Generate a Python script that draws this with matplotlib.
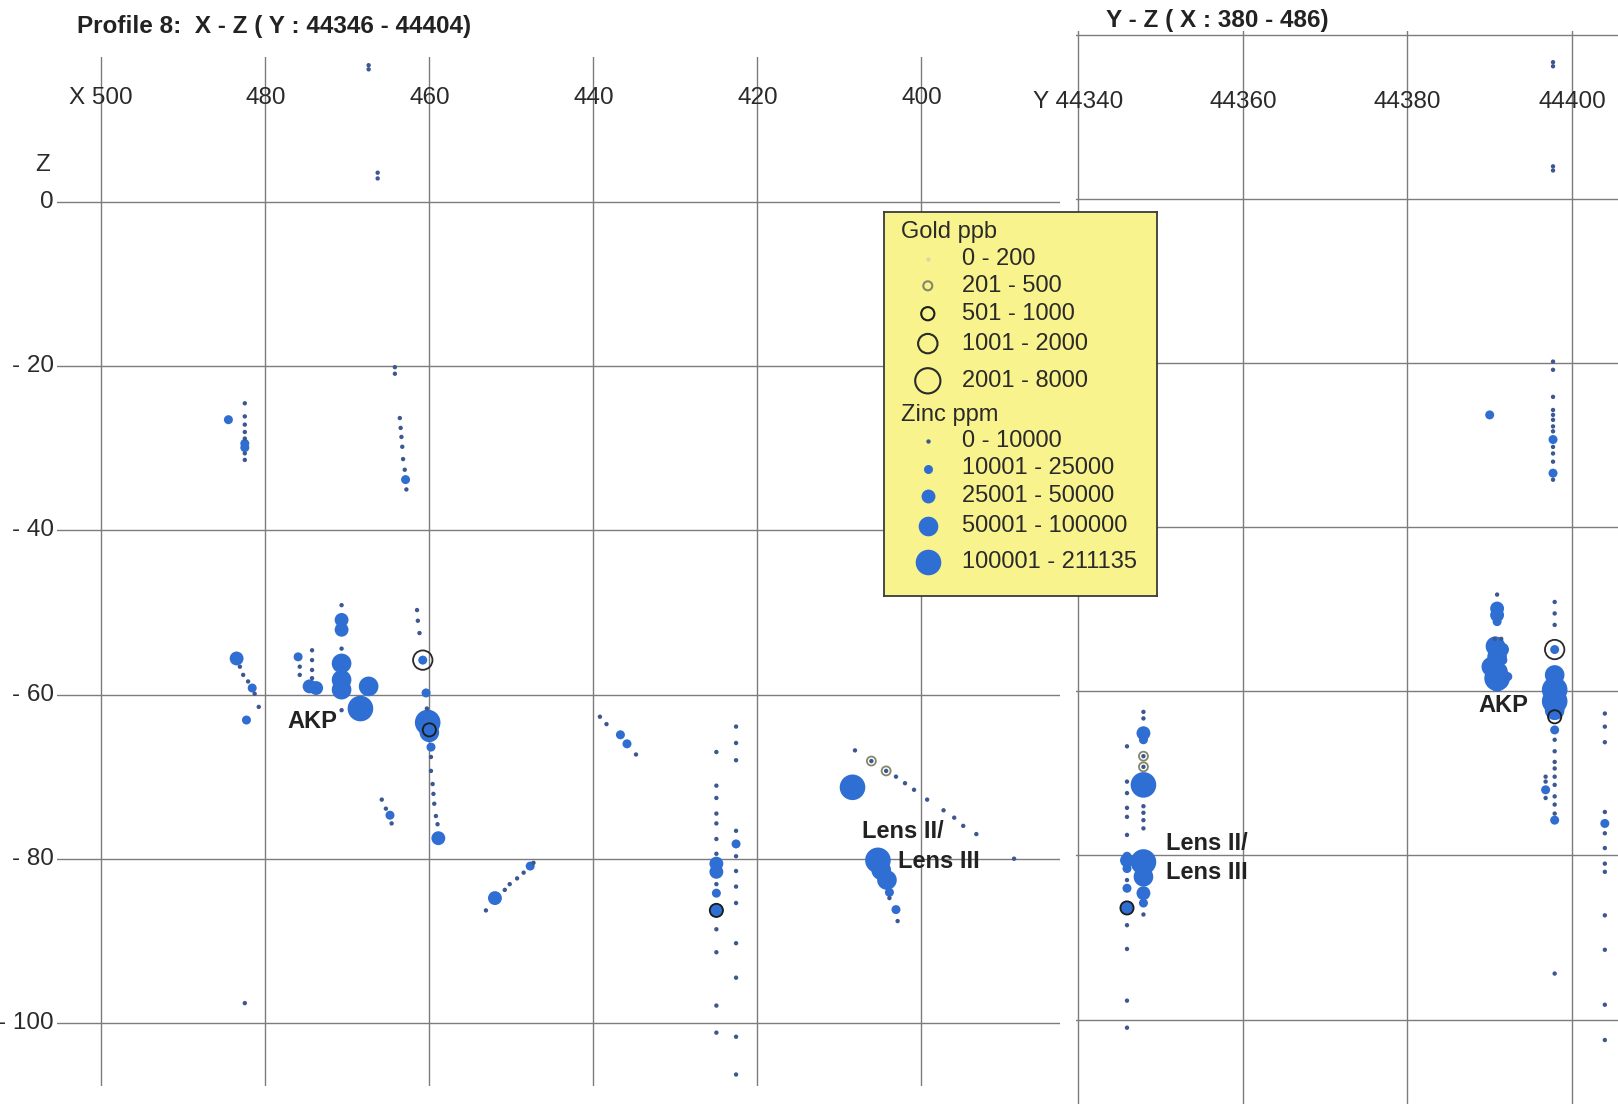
import matplotlib.pyplot as plt

plt.rcParams['font.family'] = ['Liberation Sans', 'DejaVu Sans']

# ---- X-Z section (left) : zinc samples  (X, Z, zinc class 1..5)
xz_x = [467.4, 467.4, 466.3, 466.3,
        484.5, 482.5, 482.5, 482.5, 482.5, 482.5, 482.5, 482.5, 482.5, 482.5,
        464.2, 464.2, 463.6, 463.5, 463.4, 463.3, 463.2, 463.0, 462.9, 462.8,
        483.5, 483.1, 482.7, 482.1, 481.6, 481.3, 480.8, 482.3,
        476.0, 475.8, 475.8, 474.3, 474.3, 474.3, 474.3, 474.6, 473.8,
        470.7, 470.7, 470.7, 470.7, 470.7, 470.7, 470.7, 470.7, 468.4, 467.4,
        461.5, 461.4, 461.2, 460.8, 460.4, 460.3, 460.2, 460.0, 459.8, 459.8,
        459.8, 459.6, 459.5, 459.4, 459.2, 459.0, 458.9,
        465.8, 465.3, 464.8, 464.6,
        439.2, 438.4, 436.7, 435.9, 434.8,
        453.1, 452.0, 450.8, 450.2, 449.3, 448.5, 447.7, 447.3,
        425.0, 425.0, 425.0, 425.0, 425.0, 425.0, 425.0, 425.0, 425.0, 425.0,
        425.0, 425.0, 425.0, 425.0, 425.0, 425.0,
        422.6, 422.6, 422.6, 422.6, 422.6, 422.6, 422.6, 422.6, 422.6, 422.6,
        422.6, 422.6, 422.6,
        408.1, 406.1, 404.3, 403.1, 402.0, 400.9, 399.3, 397.3, 396.0, 394.9,
        393.3, 388.7, 408.4, 405.3, 404.9, 404.2, 403.9, 403.9, 403.1, 402.9,
        482.5]
xz_z = [16.7, 16.2, 3.6, 2.9,
        -26.5, -24.5, -26.1, -27.1, -28.0, -28.8, -29.4, -29.9, -30.6, -31.4,
        -20.1, -20.9, -26.3, -27.5, -28.6, -29.8, -31.3, -32.6, -33.8, -35.0,
        -55.6, -56.6, -57.6, -58.4, -59.2, -59.9, -61.5, -63.1,
        -55.4, -56.6, -57.6, -54.6, -55.8, -57.0, -58.0, -59.0, -59.2,
        -49.1, -50.9, -52.1, -54.4, -56.2, -58.2, -59.4, -61.9, -61.7, -59.0,
        -49.7, -51.0, -52.5, -55.8, -59.8, -61.7, -63.4, -64.6, -66.4, -67.6,
        -69.3, -70.9, -72.1, -73.3, -74.8, -75.8, -77.5,
        -72.8, -73.9, -74.7, -75.7,
        -62.7, -63.6, -64.9, -66.0, -67.3,
        -86.3, -84.8, -83.8, -83.1, -82.4, -81.7, -80.9, -80.5,
        -67.0, -71.1, -72.6, -74.5, -75.7, -77.6, -79.4, -80.6, -81.6, -83.1,
        -84.2, -86.3, -88.6, -91.4, -97.9, -101.2,
        -63.9, -65.9, -68.0, -76.6, -78.2, -79.7, -81.5, -83.4, -85.4, -90.3,
        -94.5, -101.7, -106.3,
        -66.8, -68.1, -69.3, -70.0, -70.8, -71.6, -72.8, -74.1, -75.0, -76.0,
        -77.0, -80.0, -71.3, -80.2, -81.4, -82.6, -84.1, -84.8, -86.2, -87.6,
        -97.6]
xz_zn = [1, 1, 1, 1,
         2, 1, 1, 1, 1, 1, 2, 2, 1, 1,
         1, 1, 1, 1, 1, 1, 1, 1, 2, 1,
         3, 1, 1, 1, 2, 1, 1, 2,
         2, 1, 1, 1, 1, 1, 1, 3, 3,
         1, 3, 3, 1, 4, 4, 4, 1, 5, 4,
         1, 1, 1, 2, 2, 1, 5, 4, 2, 1,
         1, 1, 1, 1, 1, 1, 3,
         1, 1, 2, 1,
         1, 1, 2, 2, 1,
         1, 3, 1, 1, 1, 1, 2, 1,
         1, 1, 1, 1, 1, 1, 1, 3, 3, 1,
         2, 3, 1, 1, 1, 1,
         1, 1, 1, 1, 2, 1, 1, 1, 1, 1,
         1, 1, 1,
         1, 1, 1, 1, 1, 1, 1, 1, 1, 1,
         1, 1, 5, 5, 4, 4, 2, 1, 2, 1,
         1]

# X-Z section : gold samples (X, Z, gold class)
xz_au_x = [460.8, 460.0, 406.1, 404.3, 425.0]
xz_au_z = [-55.8, -64.3, -68.1, -69.3, -86.3]
xz_au_c = [4, 3, 2, 2, 3]

# ---- Y-Z section (right) : zinc samples (Y, Z, zinc class)
yz_y = [44397.7, 44397.7, 44397.7, 44397.7,
        44397.7, 44397.7, 44397.7, 44397.7, 44397.7, 44397.7, 44397.7,
        44397.7, 44397.7, 44397.7, 44397.7, 44397.7, 44397.7, 44397.7,
        44390.0,
        44390.9, 44390.9, 44390.9, 44390.9, 44390.6, 44391.4, 44390.7,
        44391.5, 44390.9, 44391.6, 44390.2, 44391.0, 44390.9, 44392.2, 44390.9,
        44397.9, 44397.9, 44397.9, 44397.9, 44397.9, 44397.9, 44397.9,
        44397.9, 44397.9, 44397.9, 44397.9, 44397.9, 44397.9, 44397.9,
        44397.9, 44397.9, 44397.9, 44397.9, 44397.9,
        44396.8, 44396.8, 44396.8, 44396.8, 44397.9,
        44404.0, 44404.0, 44404.0, 44404.0, 44404.0, 44404.0, 44404.0,
        44404.0, 44404.0, 44404.0, 44404.0, 44404.0, 44404.0,
        44345.9, 44345.9, 44345.9, 44345.9, 44345.9, 44345.9, 44345.9,
        44345.9, 44345.9, 44345.9, 44345.9, 44345.9, 44345.9, 44345.9,
        44345.9, 44345.9,
        44347.9, 44347.9, 44347.9, 44347.9, 44347.9, 44347.9, 44347.9,
        44347.9, 44347.9, 44347.9, 44347.9, 44347.9, 44347.9, 44347.9,
        44347.9, 44347.9]
yz_z = [16.7, 16.2, 4.0, 3.5,
        -19.8, -20.8, -24.1, -25.7, -26.3, -26.9, -27.7,
        -28.3, -29.3, -30.2, -31.0, -32.0, -33.4, -34.2,
        -26.3,
        -48.2, -49.9, -50.7, -51.5, -53.6, -53.6, -54.5,
        -54.9, -55.8, -56.2, -57.0, -57.6, -58.4, -58.2, -59.2,
        -49.1, -50.5, -51.9, -54.9, -58.0, -59.8, -61.2,
        -62.3, -64.7, -65.9, -67.3, -68.6, -69.4, -70.4,
        -71.4, -72.8, -73.8, -74.9, -75.7,
        -70.4, -71.0, -72.0, -73.0, -94.4,
        -62.7, -64.3, -66.2, -74.7, -76.1, -77.3, -79.1,
        -81.0, -82.0, -87.3, -91.5, -98.2, -102.5,
        -66.7, -71.0, -72.4, -74.2, -75.3, -77.5, -80.1,
        -80.6, -81.6, -83.0, -84.0, -86.4, -88.5, -91.4,
        -97.7, -101.0,
        -62.5, -63.3, -65.1, -65.9, -67.9, -69.2, -71.4,
        -74.0, -74.8, -75.7, -76.7, -80.8, -82.6, -84.6,
        -85.8, -87.2]
yz_zn = [1, 1, 1, 1,
         1, 1, 1, 1, 1, 1, 1,
         1, 2, 1, 1, 1, 2, 1,
         2,
         1, 3, 3, 2, 1, 1, 4,
         3, 4, 2, 4, 4, 5, 2, 3,
         1, 1, 1, 2, 4, 5, 5,
         4, 2, 1, 1, 1, 1, 1,
         1, 1, 1, 1, 2,
         1, 1, 2, 1, 1,
         1, 1, 1, 1, 2, 1, 1,
         1, 1, 1, 1, 1, 1,
         1, 1, 1, 1, 1, 1, 2,
         3, 2, 1, 2, 3, 1, 1,
         1, 1,
         1, 1, 3, 2, 1, 1, 5,
         1, 1, 1, 1, 5, 4, 3,
         2, 1]

yz_au_y = [44397.9, 44397.9, 44347.9, 44347.9, 44345.9]
yz_au_z = [-54.9, -63.1, -67.9, -69.2, -86.4]
yz_au_c = [4, 3, 2, 2, 3]

gold_labels = ['0 - 200', '201 - 500', '501 - 1000', '1001 - 2000', '2001 - 8000']
zinc_labels = ['0 - 10000', '10001 - 25000', '25001 - 50000',
               '50001 - 100000', '100001 - 211135']

xz_ticks = [500, 480, 460, 440, 420, 400]
xz_ticklabels = ['X 500', '480', '460', '440', '420', '400']
yz_ticks = [44340, 44360, 44380, 44400]
yz_ticklabels = ['Y 44340', '44360', '44380', '44400']
z_ticks = [0, -20, -40, -60, -80, -100]

ZN_SIZE = {1: 10, 2: 42, 3: 100, 4: 200, 5: 340}
ZN_COLOR = {1: '#3d5890', 2: '#2f6dd0', 3: '#2f6fd3', 4: '#2f6fd3', 5: '#2f6fd3'}
AU_SIZE = {1: 9, 2: 42, 3: 90, 4: 195, 5: 330}
AU_EDGE = {1: '#d6d6aa', 2: '#86866a', 3: '#1c1c1c', 4: '#2a2a2a', 5: '#2a2a2a'}
GRID = '#7c7c7c'
TXT = '#2a2a2a'
FS = 17.5


def draw_samples(ax, h, z, zn, gh, gz, gc):
    order = sorted(range(len(h)), key=lambda i: -zn[i])
    ax.scatter([h[i] for i in order], [z[i] for i in order],
               s=[ZN_SIZE[zn[i]] for i in order],
               c=[ZN_COLOR[zn[i]] for i in order],
               linewidths=0, zorder=3, clip_on=False)
    ax.scatter(gh, gz, s=[AU_SIZE[c] for c in gc], facecolors='none',
               edgecolors=[AU_EDGE[c] for c in gc], linewidths=1.3, zorder=4,
               clip_on=False)


def setup(ax, xlim, ylim, xt, zt):
    ax.set_xlim(*xlim)
    ax.set_ylim(*ylim)
    ax.set_xticks(xt)
    ax.set_yticks(zt)
    ax.grid(True, color=GRID, linewidth=1.0)
    ax.tick_params(length=0, labelbottom=False, labelleft=False)
    for s in ax.spines.values():
        s.set_visible(False)
    ax.set_axisbelow(True)


fig = plt.figure(figsize=(16.18, 11.04), dpi=100)

# left panel
ax1 = fig.add_axes([57 / 1618, 1 - 1086 / 1104, 1003 / 1618, 1029 / 1104])
setup(ax1, (505.4, 383.1), (-107.7, 17.7), xz_ticks, z_ticks)
draw_samples(ax1, xz_x, xz_z, xz_zn, xz_au_x, xz_au_z, xz_au_c)
for v, lab in zip(xz_ticks, xz_ticklabels):
    ax1.text(v, 12.7, lab, ha='center', va='center', fontsize=FS, color=TXT)
for v in z_ticks:
    lab = '0' if v == 0 else '- %d' % abs(v)
    ax1.text(505.8, v, lab, ha='right', va='center', fontsize=FS,
             color=TXT, clip_on=False)
ax1.text(507.2, 4.5, 'Z', ha='center', va='center', fontsize=FS,
         color=TXT, clip_on=False)
ax1.text(477.3, -63.3, 'AKP', ha='left', va='center', fontsize=17,
         fontweight='bold', color='#222222')
ax1.text(407.2, -76.7, 'Lens II/', ha='left', va='center', fontsize=17,
         fontweight='bold', color='#222222')
ax1.text(402.9, -80.3, 'Lens III', ha='left', va='center', fontsize=17,
         fontweight='bold', color='#222222')

# right panel
ax2 = fig.add_axes([1076 / 1618, 0, 542 / 1618, 1 - 31 / 1104])
setup(ax2, (44339.7, 44405.6), (-110.3, 20.5), yz_ticks,
      [20] + z_ticks)
draw_samples(ax2, yz_y, yz_z, yz_zn, yz_au_y, yz_au_z, yz_au_c)
for v, lab in zip(yz_ticks, yz_ticklabels):
    ax2.text(v, 11.9, lab, ha='center', va='center', fontsize=FS, color=TXT)
ax2.text(44388.6, -61.7, 'AKP', ha='left', va='center', fontsize=17,
         fontweight='bold', color='#222222')
ax2.text(44350.7, -78.6, 'Lens II/', ha='left', va='center', fontsize=17,
         fontweight='bold', color='#222222')
ax2.text(44350.7, -82.1, 'Lens III', ha='left', va='center', fontsize=17,
         fontweight='bold', color='#222222')

fig.text(77 / 1618, 1 - 26 / 1104, 'Profile 8:  X - Z ( Y : 44346 - 44404)',
         ha='left', va='center', fontsize=17.5, fontweight='bold', color='#222222')
fig.text(1106 / 1618, 1 - 21 / 1104, 'Y - Z ( X : 380 - 486)',
         ha='left', va='center', fontsize=17.5, fontweight='bold', color='#222222')

# legend box
W, H = 272.5, 383.9
axl = fig.add_axes([884.4 / 1618, 1 - 595.5 / 1104, W / 1618, H / 1104])
axl.set_facecolor('#f8f38c')
axl.set_xlim(0, W)
axl.set_ylim(H, 0)
axl.set_xticks([])
axl.set_yticks([])
for s in axl.spines.values():
    s.set_edgecolor('#3a3a3a')
    s.set_linewidth(1.3)
gold_rows = [47.4, 74.2, 102.1, 132.0, 169.2]
zinc_rows = [229.1, 256.9, 284.8, 314.7, 350.8]
LFS = 17
axl.text(16.5, 20.6, 'Gold ppb', ha='left', va='center', fontsize=LFS, color=TXT)
axl.text(16.5, 203.3, 'Zinc ppm', ha='left', va='center', fontsize=LFS, color=TXT)
for i, (y, lab) in enumerate(zip(gold_rows, gold_labels)):
    c = i + 1
    if c == 1:
        axl.scatter([43.4], [y], s=AU_SIZE[c], c=AU_EDGE[c], linewidths=0)
    else:
        axl.scatter([43.4], [y], s=AU_SIZE[c], facecolors='none',
                    edgecolors=AU_EDGE[c], linewidths=1.5)
    axl.text(77.4, y, lab, ha='left', va='center', fontsize=LFS, color=TXT)
for i, (y, lab) in enumerate(zip(zinc_rows, zinc_labels)):
    c = i + 1
    axl.scatter([43.4], [y], s=ZN_SIZE[c], c=ZN_COLOR[c], linewidths=0)
    axl.text(77.4, y, lab, ha='left', va='center', fontsize=LFS, color=TXT)

fig.savefig('out.png', dpi=100, facecolor='white')
